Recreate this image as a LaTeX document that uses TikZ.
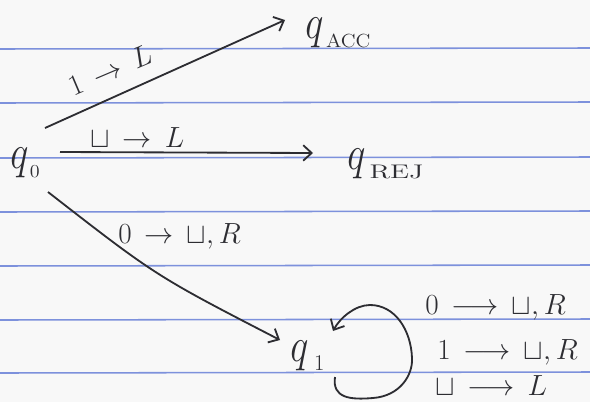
\documentclass[tikz,border=0pt]{standalone}
\usepackage{amsmath}
\usepackage{tikz}
\usetikzlibrary{positioning,arrows.meta}
\definecolor{ink}{RGB}{45,45,50}
\definecolor{ruling}{RGB}{125,145,220}
\definecolor{paper}{RGB}{248,248,248}
\newcommand{\stq}{\scalebox{1.1}[1.37]{$q$}}
\newcommand{\qsub}[3]{\raisebox{-6.6pt}{\fontsize{#1}{#1}\selectfont\scalebox{#2}[1]{#3}}}
\newcommand{\tto}{\mathrel{\,\rightarrow\,}}
\newcommand{\ltto}{\mathrel{\,\longrightarrow\,}}

\begin{document}
\begin{tikzpicture}[
  x=0.025cm, y=-0.025cm,
  state/.style={anchor=base west, text=ink, inner sep=0pt, font=\Huge},
  lbl/.style={anchor=base west, text=ink, inner sep=0pt, font=\huge},
  trans/.style={draw=ink, line width=1.3pt, -{Straight Barb[length=6pt,width=11pt]}},
  rule/.style={draw=ruling, line width=1.1pt}]

\fill[paper] (0,0) rectangle (590,402);
\useasboundingbox (0,0) rectangle (590,402);
\foreach \y in {49,103,158,212,266,320,373}{\draw[rule] (0,\y) -- (590,\y-1);}

\node[state] (q0) at (10,168) {\stq\kern1pt\qsub{13}{1.1}{0}};
\node[state] (qacc) at (305,38) {\stq\kern2pt\qsub{13.5}{1.1}{ACC}};
\node[state] (qrej) at (347,169) {\stq\kern3pt\qsub{14}{1.45}{REJ}};
\node[state] (q1) at (290,361) {\stq\kern4pt\qsub{16}{1}{1}};

\draw[trans] ([shift={(35,-40)}]q0.base west) -- ([shift={(-20,-18)}]qacc.base west);
\draw[trans] ([shift={(50,-16)}]q0.base west) -- ([shift={(-34,-16)}]qrej.base west);
\draw[trans] ([shift={(38,24)}]q0.base west) .. controls (156,276) .. ([shift={(-10,-21)}]q1.base west);
\draw[trans] ([shift={(45,16)}]q1.base west) .. controls (332,398) and (350,400) .. (373,398)
  .. controls (400,396) and (413,375) .. (412,358)
  .. controls (411,330) and (395,305) .. (370,305)
  .. controls (355,305) and (340,318) .. ([shift={(43,-30)}]q1.base west);

\node[lbl, anchor=center, rotate=23] (acclbl) at (110,70) {$1\tto L$};
\node[lbl] (rejlbl) at (90,147) {$\sqcup\tto L$};
\node[lbl] (onelbl) at (118,243) {$0\tto\sqcup,R$};
\node[lbl] (loopa) at (425,314) {$0\ltto\sqcup,R$};
\node[lbl] (loopb) at (437,359) {$1\ltto\sqcup,R$};
\node[lbl] (loopc) at (435,395) {$\sqcup\ltto L$};
\end{tikzpicture}
\end{document}
